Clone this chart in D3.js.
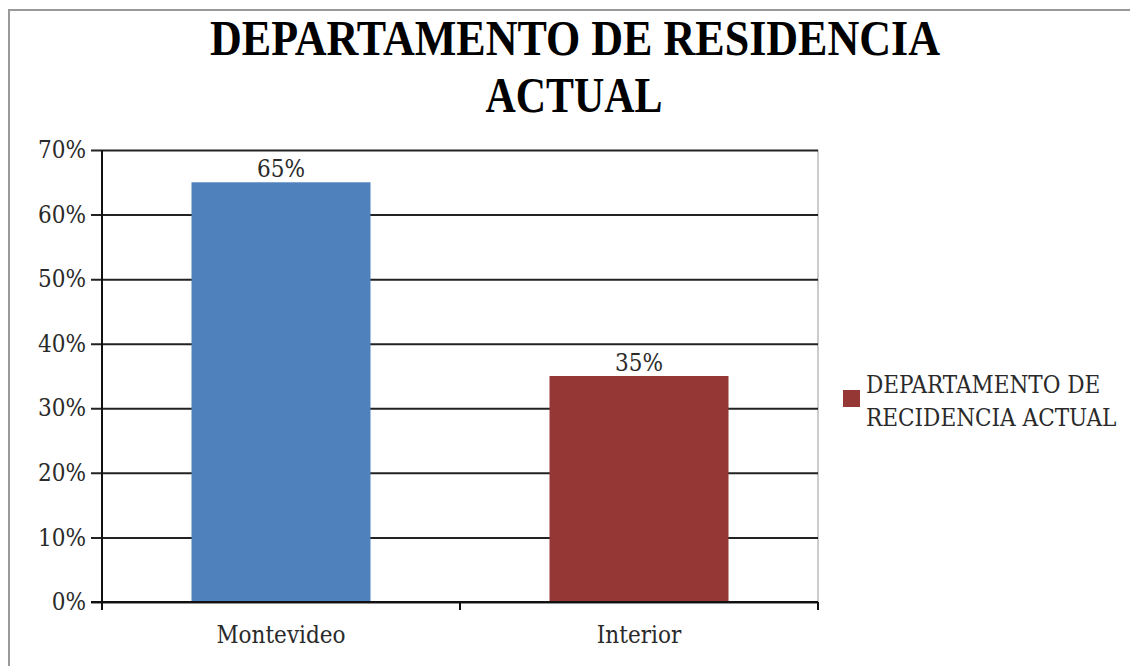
<!DOCTYPE html>
<html lang="es">
<head>
<meta charset="UTF-8">
<title>Departamento de residencia actual</title>
<script src="https://d3js.org/d3.v7.min.js"></script>
<style>
    body { margin: 0; background: #fff; }
    svg text { font-family: "DejaVu Serif Condensed", "DejaVu Serif", serif; fill: #2a2a2a; }
    .title { font-family: "Liberation Serif", serif !important; font-weight: bold; font-size: 50px; fill: #000 !important; }
    .tick-label { font-size: 24px; }
    .grid line { stroke: #222; stroke-width: 2; }
</style>
</head>
<body>
<div id="chart"></div>
<script>
    // Data
    const categories = ["Montevideo", "Interior"];
    const values = [0.65, 0.35];
    const barColors = ["#4f81bd", "#953735"];
    const yTicks = [0, 0.1, 0.2, 0.3, 0.4, 0.5, 0.6, 0.7];
    const titleLines = ["DEPARTAMENTO DE RESIDENCIA", "ACTUAL"];
    const legendLines = ["DEPARTAMENTO DE", "RECIDENCIA ACTUAL"];

    const W = 1130, H = 666;
    const plot = { left: 102, right: 818, top: 150, bottom: 602 };

    const svg = d3.select("#chart").append("svg")
        .attr("width", W).attr("height", H);

    // outer frame (only top and left visible)
    svg.append("rect")
        .attr("x", 9).attr("y", 10)
        .attr("width", W + 20).attr("height", H + 20)
        .attr("fill", "none").attr("stroke", "#999").attr("stroke-width", 2);

    // Title
    svg.append("text").attr("class", "title")
        .attr("x", 575).attr("y", 55).attr("text-anchor", "middle")
        .attr("textLength", 730).attr("lengthAdjust", "spacingAndGlyphs")
        .text(titleLines[0]);
    svg.append("text").attr("class", "title")
        .attr("x", 574).attr("y", 112).attr("text-anchor", "middle")
        .attr("textLength", 177).attr("lengthAdjust", "spacingAndGlyphs")
        .text(titleLines[1]);

    // Scales
    const x = d3.scaleBand().domain(categories)
        .range([plot.left, plot.right]).paddingInner(0.5).paddingOuter(0.25);
    const xOuter = d3.scaleBand().domain(categories).range([plot.left, plot.right]);
    const y = d3.scaleLinear().domain([0, 0.7]).range([plot.bottom, plot.top]);

    // right plot border
    svg.append("line")
        .attr("x1", plot.right).attr("x2", plot.right)
        .attr("y1", plot.top).attr("y2", plot.bottom)
        .attr("stroke", "#bbb").attr("stroke-width", 1.5);

    // Gridlines + y ticks
    const yAxis = svg.append("g").attr("class", "grid")
        .attr("transform", `translate(${plot.left},0)`)
        .call(d3.axisLeft(y).tickValues(yTicks)
            .tickSize(-(plot.right - plot.left)).tickFormat(d3.format(".0%")).tickPadding(16));
    yAxis.select(".domain").remove();
    yAxis.selectAll(".tick line").attr("x1", -11);
    yAxis.selectAll("text").attr("class", "tick-label")
        .attr("font-family", null).attr("font-size", null).attr("fill", null);

    // Bars
    svg.selectAll(".bar").data(categories).enter().append("rect")
        .attr("class", "bar")
        .attr("x", d => x(d))
        .attr("width", x.bandwidth())
        .attr("y", (d, i) => y(values[i]))
        .attr("height", (d, i) => y(0) - y(values[i]))
        .attr("fill", (d, i) => barColors[i]);

    // Data labels
    svg.selectAll(".val").data(categories).enter().append("text")
        .attr("class", "tick-label")
        .attr("x", d => x(d) + x.bandwidth() / 2)
        .attr("y", (d, i) => y(values[i]) - 5)
        .attr("text-anchor", "middle")
        .text((d, i) => d3.format(".0%")(values[i]));

    // Axes lines
    svg.append("line")
        .attr("x1", plot.left).attr("x2", plot.left)
        .attr("y1", plot.top).attr("y2", plot.bottom + 8)
        .attr("stroke", "#111").attr("stroke-width", 2);
    svg.append("line")
        .attr("x1", plot.left - 11).attr("x2", plot.right)
        .attr("y1", plot.bottom).attr("y2", plot.bottom)
        .attr("stroke", "#111").attr("stroke-width", 2);

    // x category ticks at band boundaries
    const bounds = categories.map(d => xOuter(d)).concat([plot.right]);
    svg.selectAll(".xtick").data(bounds).enter().append("line")
        .attr("x1", d => d).attr("x2", d => d)
        .attr("y1", plot.bottom).attr("y2", plot.bottom + 8)
        .attr("stroke", "#111").attr("stroke-width", 2);

    svg.selectAll(".xlabel").data(categories).enter().append("text")
        .attr("class", "tick-label")
        .attr("x", d => xOuter(d) + xOuter.bandwidth() / 2)
        .attr("y", 643)
        .attr("text-anchor", "middle")
        .text(d => d);

    // Legend
    svg.append("rect")
        .attr("x", 843).attr("y", 390).attr("width", 17).attr("height", 17)
        .attr("fill", barColors[1]);
    svg.selectAll(".leg").data(legendLines).enter().append("text")
        .attr("class", "tick-label")
        .attr("x", 866)
        .attr("y", (d, i) => 393 + i * 33)
        .text(d => d);
</script>
</body>
</html>
